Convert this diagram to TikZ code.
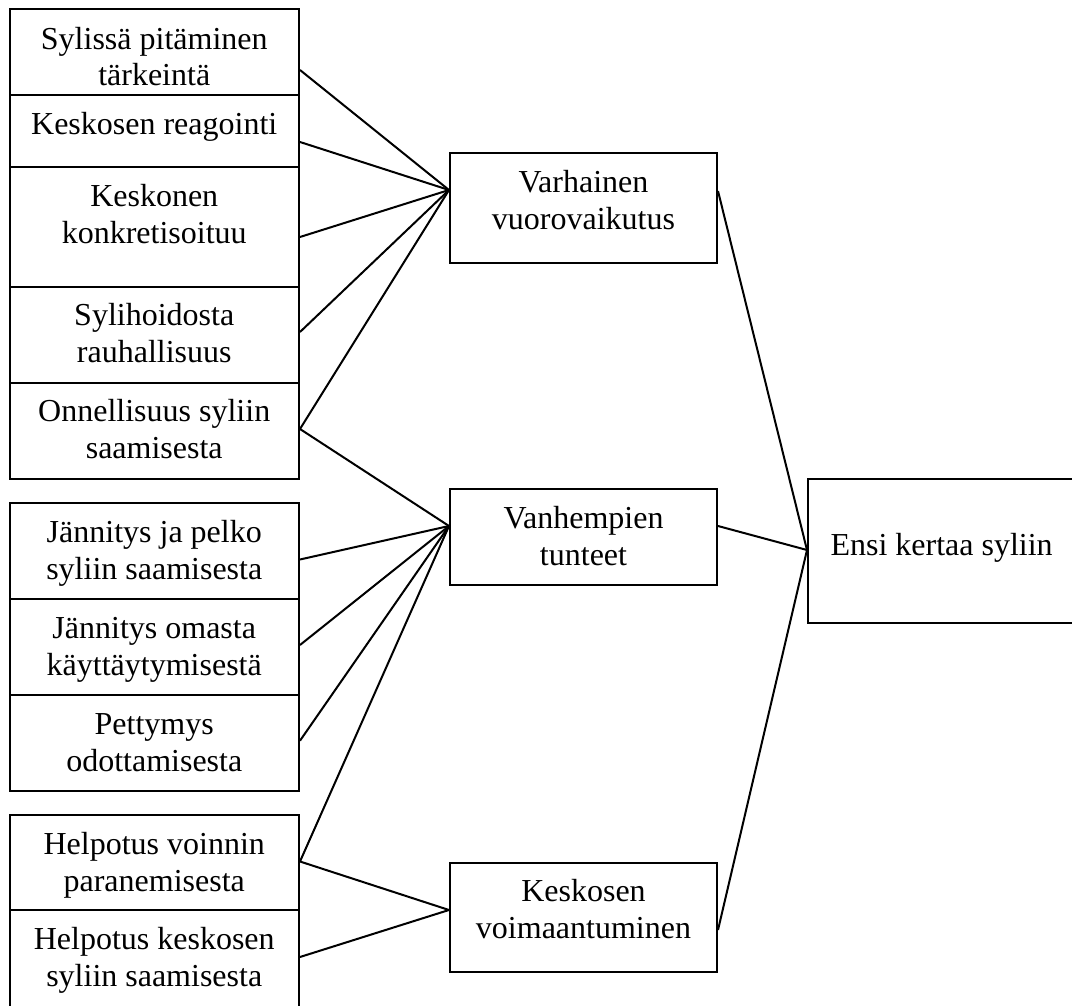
\documentclass[tikz,border=0pt]{standalone}
\usepackage{fontspec}
\setmainfont{Liberation Serif}
\usetikzlibrary{calc}
% box from (x1,y1) to (x2,y2) in pixel units, y downward
\newcommand\mkbox[5]{\node[box, minimum width={(#4-#2)*0.375pt}, minimum height={(#5-#3)*0.375pt}] (#1) at ({(#2+#4)/2},{(#3+#5)/2}) {};}
\begin{document}
\begin{tikzpicture}[x=0.375pt, y=-0.375pt,
  box/.style={draw, line width=0.75pt, inner sep=0pt, rectangle},
  txt/.style={anchor=north, inner sep=0pt, align=center, font=\fontsize{12}{13.8}\selectfont},
  link/.style={line width=0.75pt}]
\useasboundingbox (0,0) rectangle (1072,1006);
\clip (0,0) rectangle (1072,1006);

% left column, group 1
\mkbox{b1}{9.5}{9.5}{299}{95}
\mkbox{b2}{9.5}{95}{299}{167}
\mkbox{b3}{9.5}{167}{299}{287}
\mkbox{b4}{9.5}{287}{299}{383}
\mkbox{b5}{9.5}{383}{299}{479}
% group 2
\mkbox{b6}{9.5}{503}{299}{599}
\mkbox{b7}{9.5}{599}{299}{695}
\mkbox{b8}{9.5}{695}{299}{791}
% group 3
\mkbox{b9}{9.5}{815}{299}{910}
\mkbox{b10}{9.5}{910}{299}{1020}
% middle column
\mkbox{v}{450}{153}{717}{263}
\mkbox{vh}{450}{489}{717}{585}
\mkbox{kv}{450}{863}{717}{972}
% right
\mkbox{e}{808}{479}{1085}{623}

% texts
\node[txt] (t1) at (b1.north) {\rule{0pt}{15pt}Sylissä pitäminen\\tärkeintä};
\node[txt] (t2) at (b2.north) {\rule{0pt}{15pt}Keskosen reagointi};
\node[txt] (t3) at (b3.north) {\rule{0pt}{15pt}Keskonen\\konkretisoituu};
\node[txt] (t4) at (b4.north) {\rule{0pt}{14.5pt}Sylihoidosta\\rauhallisuus};
\node[txt] (t5) at (b5.north) {\rule{0pt}{14.7pt}Onnellisuus syliin\\saamisesta};
\node[txt] (t6) at (b6.north) {\rule{0pt}{15pt}Jännitys ja pelko\\syliin saamisesta};
\node[txt] (t7) at (b7.north) {\rule{0pt}{15pt}Jännitys omasta\\käyttäytymisestä};
\node[txt] (t8) at (b8.north) {\rule{0pt}{15pt}Pettymys\\odottamisesta};
\node[txt] (t9) at (b9.north) {\rule{0pt}{15pt}Helpotus voinnin\\paranemisesta};
\node[txt] (t10) at (b10.north) {\rule{0pt}{15pt}Helpotus keskosen\\syliin saamisesta};
\node[txt] (tv) at (v.north) {\rule{0pt}{15pt}Varhainen\\vuorovaikutus};
\node[txt] (tvh) at (vh.north) {\rule{0pt}{15pt}Vanhempien\\tunteet};
\node[txt] (tkv) at ($(kv.north)+(0,0)$) {\rule{0pt}{14.6pt}Keskosen\\voimaantuminen};
\node[txt, anchor=north west] (te) at ($(e.north west)+(23,0)$) {\rule{0pt}{28.9pt}Ensi kertaa syliin};

% connection points
\coordinate (vin) at ($(v.north west)+(0,38)$);
\coordinate (vout) at ($(v.north east)+(0,39)$);
\coordinate (vhin) at ($(vh.north west)+(0,38)$);
\coordinate (vhout) at ($(vh.north east)+(0,38)$);
\coordinate (kvin) at ($(kv.north west)+(0,48)$);
\coordinate (kvout) at ($(kv.north east)+(0,68)$);
\coordinate (ein) at ($(e.north west)+(0,72)$);

% connectors
\draw[link] ($(b1.north east)+(0,61.5)$) -- (vin);
\draw[link] ($(b2.north east)+(0,48)$) -- (vin);
\draw[link] ($(b3.north east)+(0,71)$) -- (vin);
\draw[link] ($(b4.north east)+(0,46)$) -- (vin);
\draw[link] ($(b5.north east)+(0,47)$) -- (vin);
\draw[link] ($(b5.north east)+(0,47)$) -- (vhin);
\draw[link] ($(b6.north east)+(0,57.5)$) -- (vhin);
\draw[link] ($(b7.north east)+(0,47)$) -- (vhin);
\draw[link] ($(b8.north east)+(0,46.7)$) -- (vhin);
\draw[link] ($(b9.north east)+(0,47.5)$) -- (vhin);
\draw[link] ($(b9.north east)+(0,47.5)$) -- (kvin);
\draw[link] ($(b10.north east)+(0,48)$) -- (kvin);
\draw[link] (vout) -- (ein);
\draw[link] (vhout) -- (ein);
\draw[link] (kvout) -- (ein);
\end{tikzpicture}
\end{document}
